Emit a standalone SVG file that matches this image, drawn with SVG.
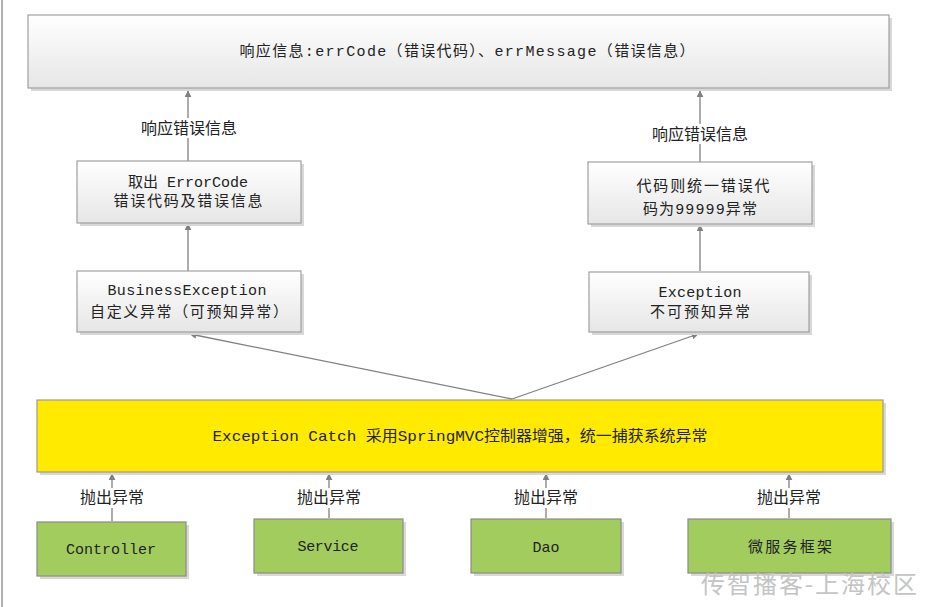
<svg xmlns="http://www.w3.org/2000/svg" width="929" height="607" viewBox="0 0 929 607">
<style>
.box{fill:url(#g);stroke:#a0a0a0;stroke-width:1.2}
.green{fill:#a3cc5f;stroke:#8a8a8a;stroke-width:1.2}
.yellow{fill:#ffea00;stroke:#9a9a9a;stroke-width:1.2}
.shadow{fill:#d8d8d8}
.t{font-family:"Liberation Mono","Noto Sans CJK SC",monospace;font-size:15px;fill:#222;text-anchor:middle}
.l{font-family:"Noto Sans CJK SC",sans-serif;font-size:16px;fill:#222;text-anchor:middle}
.c{stroke:#808080;stroke-width:1.3;fill:none;marker-end:url(#ah)}
</style>
<defs>
<linearGradient id="g" x1="0" y1="0" x2="0" y2="1">
<stop offset="0" stop-color="#ffffff"/>
<stop offset="1" stop-color="#e6e6e6"/>
</linearGradient>
<marker id="ah" viewBox="0 0 10 10" refX="9" refY="5" markerWidth="7" markerHeight="7" markerUnits="userSpaceOnUse" orient="auto">
<path d="M0,0 L10,5 L0,10 z" fill="#808080"/>
</marker>
</defs>
<rect width="929" height="607" fill="#ffffff"/>
<line x1="2" y1="0" x2="2" y2="607" stroke="#b0b0b0" stroke-width="2"/>

<g id="connectors">
<line class="c" x1="188" y1="161" x2="188" y2="91"/>
<line class="c" x1="700" y1="162" x2="700" y2="91"/>
<line class="c" x1="188" y1="271" x2="188" y2="224"/>
<line class="c" x1="700" y1="271" x2="700" y2="225"/>
<line class="c" x1="512" y1="399" x2="190" y2="334"/>
<line class="c" x1="512" y1="399" x2="698" y2="334"/>
<line class="c" x1="112" y1="521" x2="112" y2="474"/>
<line class="c" x1="329" y1="518" x2="329" y2="474"/>
<line class="c" x1="546" y1="518" x2="546" y2="474"/>
<line class="c" x1="789" y1="518" x2="789" y2="474"/>
</g>
<g id="connector-labels">
<rect x="138" y="118" width="102" height="20" fill="#fff"/>
<text class="l" x="189" y="134">响应错误信息</text>
<rect x="649" y="124" width="103" height="20" fill="#fff"/>
<text class="l" x="700" y="140">响应错误信息</text>
<rect x="78" y="488" width="68" height="20" fill="#fff"/>
<text class="l" x="112" y="503">抛出异常</text>
<rect x="295" y="488" width="68" height="20" fill="#fff"/>
<text class="l" x="329" y="503">抛出异常</text>
<rect x="512" y="488" width="68" height="20" fill="#fff"/>
<text class="l" x="546" y="503">抛出异常</text>
<rect x="755" y="488" width="68" height="20" fill="#fff"/>
<text class="l" x="789" y="503">抛出异常</text>
</g>

<g id="response">
<rect class="shadow" x="31" y="18" width="861" height="73"/>
<rect class="box" x="28" y="15" width="861" height="73"/>
<text class="t" x="467" y="56" textLength="455" lengthAdjust="spacing">响应信息:errCode（错误代码）、errMessage（错误信息）</text>
</g>

<g id="errorcode">
<rect class="shadow" x="80" y="164" width="224" height="62"/>
<rect class="box" x="77" y="161" width="224" height="62"/>
<text class="t" x="188" y="187" textLength="120" lengthAdjust="spacing">取出 ErrorCode</text>
<text class="t" x="188" y="206" textLength="149" lengthAdjust="spacing">错误代码及错误信息</text>
</g>

<g id="business">
<rect class="shadow" x="80" y="274" width="224" height="61"/>
<rect class="box" x="77" y="271" width="224" height="61"/>
<text class="t" x="187" y="295" textLength="159" lengthAdjust="spacing">BusinessException</text>
<text class="t" x="189" y="317" textLength="198" lengthAdjust="spacing">自定义异常（可预知异常）</text>
</g>

<g id="unified">
<rect class="shadow" x="591" y="165" width="224" height="62"/>
<rect class="box" x="588" y="162" width="224" height="62"/>
<text class="t" x="703" y="191" textLength="133" lengthAdjust="spacing">代码则统一错误代</text>
<text class="t" x="700" y="214" textLength="114" lengthAdjust="spacing">码为99999异常</text>
</g>

<g id="exception">
<rect class="shadow" x="592" y="275" width="220" height="60"/>
<rect class="box" x="589" y="272" width="220" height="60"/>
<text class="t" x="700" y="297" textLength="83" lengthAdjust="spacing">Exception</text>
<text class="t" x="700" y="317" textLength="100" lengthAdjust="spacing">不可预知异常</text>
</g>

<g id="catch">
<rect class="shadow" x="40" y="403" width="846" height="72"/>
<rect class="yellow" x="37" y="400" width="846" height="72"/>
<text class="t" x="460" y="441" textLength="495" lengthAdjust="spacingAndGlyphs">Exception Catch 采用SpringMVC控制器增强，统一捕获系统异常</text>
</g>

<g id="controller">
<rect class="shadow" x="40" y="525" width="149" height="54"/>
<rect class="green" x="37" y="522" width="149" height="54"/>
<text class="t" x="111" y="554" textLength="90" lengthAdjust="spacing">Controller</text>
</g>
<g id="service">
<rect class="shadow" x="257" y="522" width="149" height="54"/>
<rect class="green" x="254" y="519" width="149" height="54"/>
<text class="t" x="328" y="551" textLength="61" lengthAdjust="spacing">Service</text>
</g>
<g id="dao">
<rect class="shadow" x="474" y="522" width="150" height="54"/>
<rect class="green" x="471" y="519" width="150" height="54"/>
<text class="t" x="546" y="552">Dao</text>
</g>
<g id="micro">
<rect class="shadow" x="691" y="522" width="203" height="54"/>
<rect class="green" x="688" y="519" width="203" height="54"/>
<text class="t" x="790" y="552" textLength="84" lengthAdjust="spacing">微服务框架</text>
</g>

<text x="809" y="593" font-family="Noto Sans CJK SC,sans-serif" font-size="24" fill="#c4c4c4" text-anchor="middle" textLength="216" lengthAdjust="spacing">传智播客-上海校区</text>
</svg>
